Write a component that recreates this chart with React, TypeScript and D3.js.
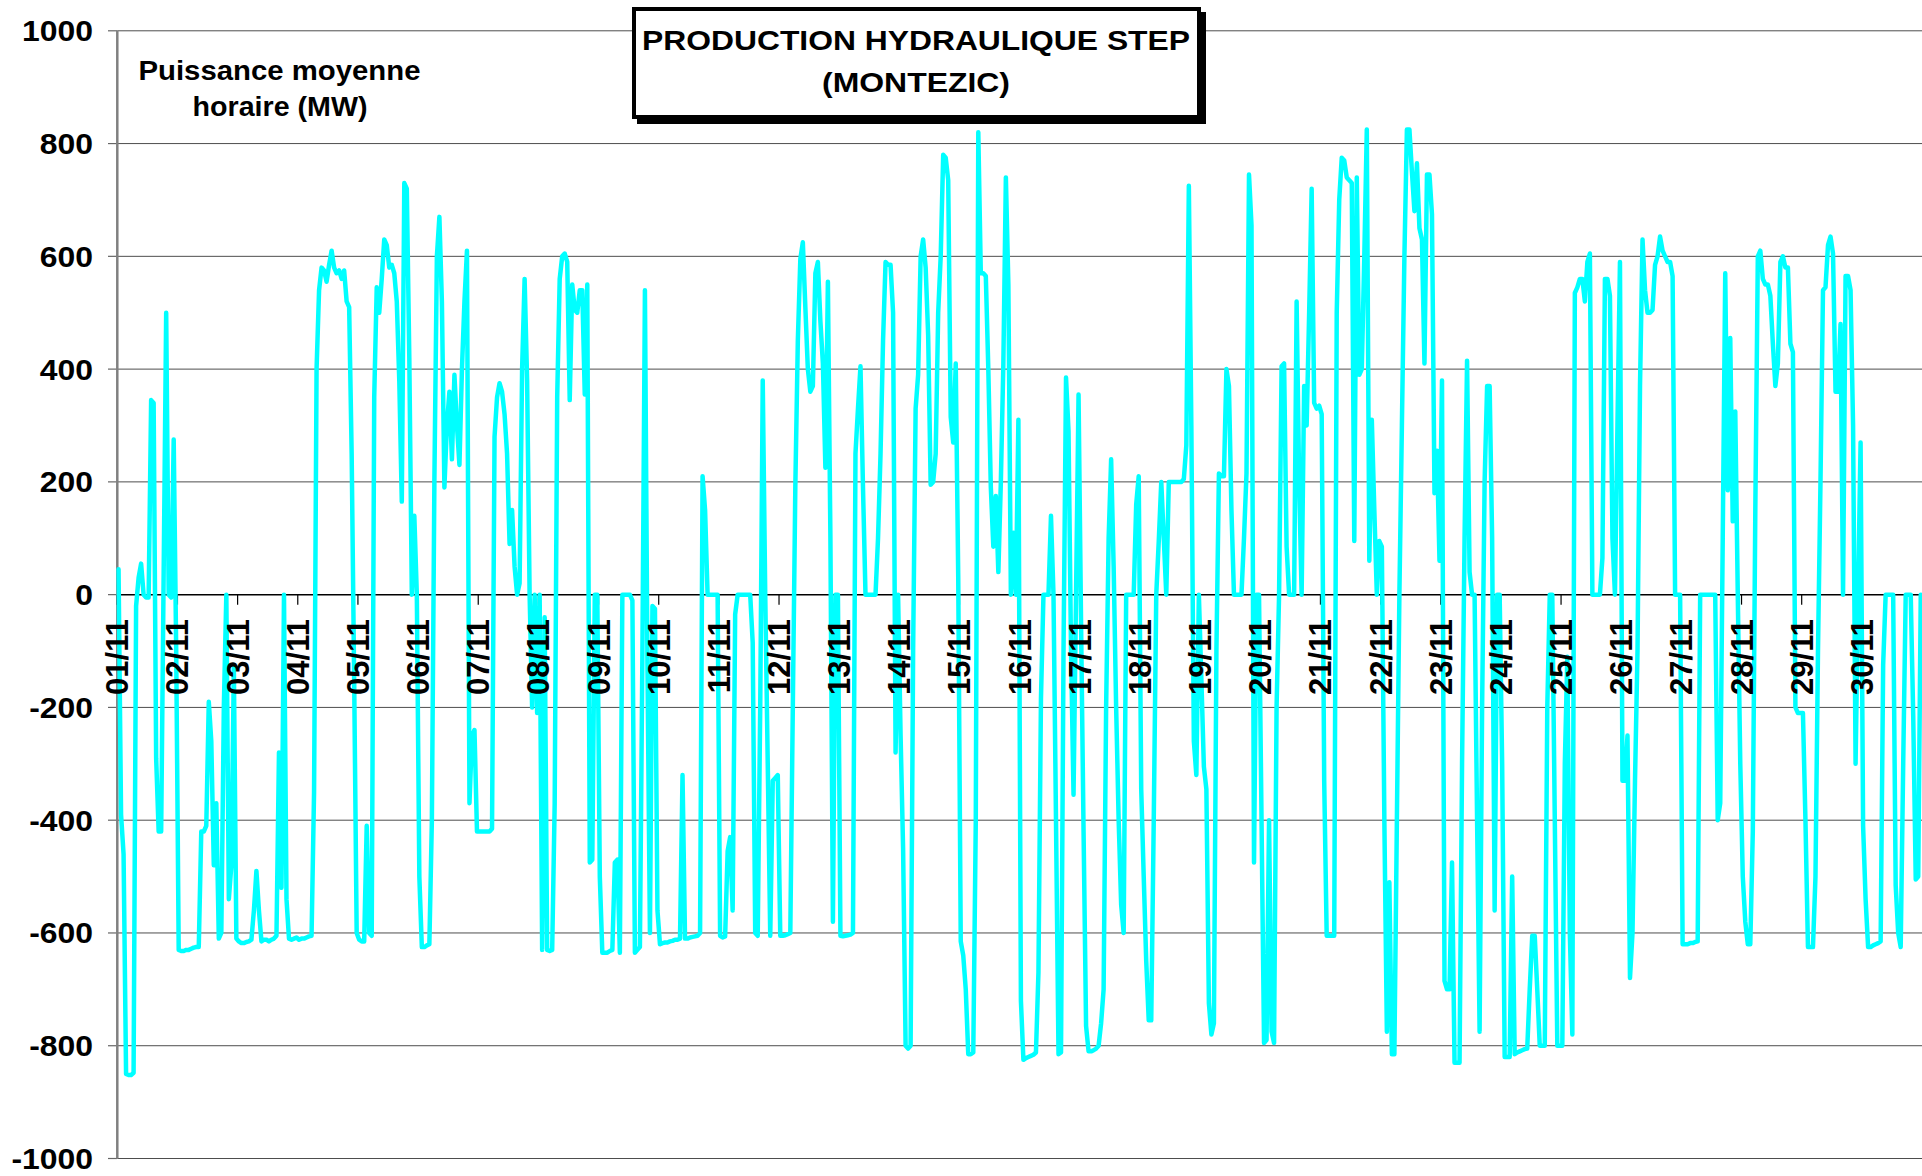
import * as d3 from "d3";

// Hourly mean power (MW), November, one array per day (24 values)
const d01 = [45, -390, -460, -850, -852, -852, -848, -20, 30, 55, 0, -5, -5, 345, 340, -290, -420, -420, 40, 500, 0, -5, 275, -100];
const d02 = [-630, -632, -632, -630, -630, -628, -626, -625, -625, -420, -420, -410, -190, -260, -480, -370, -610, -600, -200, 0, -540, -480, -130, -610];
const d03 = [-615, -618, -618, -616, -615, -612, -560, -490, -560, -615, -612, -612, -615, -612, -610, -605, -280, -520, 0, -540, -610, -612, -610, -608];
const d04 = [-612, -610, -610, -608, -606, -605, -350, 400, 540, 580, 575, 555, 585, 610, 580, 570, 575, 560, 575, 520, 510, 250, -150, -600];
const d05 = [-612, -615, -615, -410, -600, -605, 350, 545, 500, 560, 630, 620, 580, 585, 570, 520, 380, 165, 730, 720, 420, 0, 140, 0];
const d06 = [-500, -625, -625, -622, -620, -400, 200, 600, 670, 520, 190, 300, 360, 240, 390, 300, 230, 400, 520, 610, -370, -250, -240, -420];
const d07 = [-420, -420, -420, -420, -420, -415, 280, 350, 375, 360, 320, 250, 90, 150, 50, 0, 20, 400, 560, 380, 0, -200, 0, -210];
const d08 = [0, -630, -40, -630, -632, -630, -370, 350, 560, 600, 605, 590, 345, 550, 505, 500, 540, 540, 355, 550, -475, -470, 0, 0];
const d09 = [-500, -635, -635, -635, -632, -630, -475, -470, -635, 0, 0, 0, 0, -10, -635, -630, -625, -100, 540, -120, -600, -20, -25, -560];
const d10 = [-620, -618, -617, -617, -615, -614, -612, -612, -610, -320, -610, -610, -608, -607, -606, -605, -600, 210, 150, 0, 0, 0, 0, 0];
const d11 = [-605, -608, -606, -455, -430, -560, -35, 0, 0, 0, 0, 0, 0, -85, -600, -605, -200, 380, 0, -300, -605, -330, -325, -320];
const d12 = [-605, -605, -604, -602, -600, -200, 190, 450, 595, 625, 510, 400, 360, 370, 570, 590, 485, 410, 225, 555, 100, -580, 0, 0];
const d13 = [-605, -606, -605, -604, -603, -600, 250, 330, 405, 190, 0, 0, 0, 0, 0, 100, 250, 450, 590, 585, 585, 500, -280, 0];
const d14 = [-250, -450, -800, -805, -800, -100, 330, 390, 600, 630, 580, 460, 195, 200, 250, 500, 600, 780, 775, 735, 315, 270, 410, 30];
const d15 = [-615, -640, -700, -815, -815, -812, -400, 820, 570, 570, 565, 400, 190, 85, 175, 40, 200, 410, 740, 550, 0, 110, 0, 310];
const d16 = [-720, -825, -822, -820, -818, -816, -812, -670, -185, 0, 0, 0, 140, 0, -400, -815, -812, -100, 385, 290, -100, -355, 0, 355];
const d17 = [-50, -420, -765, -810, -810, -808, -805, -800, -760, -700, -200, 100, 240, 50, -200, -400, -550, -600, 0, 0, 0, 0, 160, 210];
const d18 = [-345, -500, -650, -755, -755, -400, 0, 95, 200, 100, 0, 200, 200, 200, 200, 200, 200, 205, 265, 725, 300, -260, -320, 0];
const d19 = [-150, -305, -345, -725, -780, -760, -100, 215, 210, 210, 400, 370, 150, 0, 0, 0, 0, 100, 215, 745, 655, -475, 0, 0];
const d20 = [-400, -795, -790, -400, -775, -795, -200, 0, 405, 410, 85, 0, 0, 0, 520, 200, 0, 370, 300, 500, 720, 340, 330, 335];
const d21 = [320, -330, -605, -605, -605, -605, 500, 700, 775, 770, 740, 735, 730, 95, 740, 390, 400, 600, 825, 60, 310, 150, 0, 95];
const d22 = [85, -400, -775, -510, -815, -815, -400, 0, 300, 600, 825, 825, 750, 680, 765, 650, 630, 410, 745, 745, 675, 180, 255, 60];
const d23 = [380, -685, -700, -700, -475, -830, -830, -830, -300, 100, 415, 40, 0, 0, -400, -775, -200, 200, 370, 370, 100, -560, 0, 0];
const d24 = [-300, -820, -820, -820, -500, -815, -812, -810, -808, -806, -805, -700, -605, -605, -700, -800, -800, -800, -200, 0, 0, -400, -800, -800];
const d25 = [-800, -300, -110, -600, -780, 535, 545, 560, 560, 520, 590, 605, 0, 0, 0, 0, 65, 560, 560, 530, 100, 0, 300, 590];
const d26 = [-330, -330, -250, -680, -600, -330, -100, 370, 630, 540, 500, 500, 505, 585, 600, 635, 610, 600, 590, 590, 565, 0, 0, 0];
const d27 = [-620, -620, -620, -618, -618, -616, -615, 0, 0, 0, 0, 0, 0, 0, -400, -370, 100, 570, 185, 455, 130, 325, 0, -300];
const d28 = [-500, -580, -620, -620, -420, 150, 600, 610, 560, 550, 550, 530, 445, 370, 410, 590, 600, 580, 580, 445, 430, -200, -210, -210];
const d29 = [-210, -400, -625, -625, -625, -500, -100, 200, 540, 545, 620, 635, 605, 360, 360, 480, 0, 565, 565, 540, 300, -300, 0, 270];
const d30 = [-410, -540, -625, -625, -622, -620, -618, -615, -125, 0, 0, 0, 0, -515, -600, -625, -300, 0, 0, 0, -215, -505, -500, 0];

const days = [d01, d02, d03, d04, d05, d06, d07, d08, d09, d10, d11, d12, d13, d14, d15,
  d16, d17, d18, d19, d20, d21, d22, d23, d24, d25, d26, d27, d28, d29, d30];

const dayLabels = days.map((_, i) => String(i + 1).padStart(2, "0") + "/11");
const yTicks = [1000, 800, 600, 400, 200, 0, -200, -400, -600, -800, -1000];

const W = 1922, H = 1176;
const FONT = "'Liberation Sans', Arial, sans-serif";

export default function App() {
  const values = days.flat();
  const nHours = values.length;

  const x = d3.scaleLinear().domain([0, nHours]).range([117.3, 1922]);
  const y = d3.scaleLinear().domain([-1000, 1000]).range([1158.5, 30.8]);

  const line = d3.line<number>()
    .x((_, i) => x(i + 0.5))
    .y((d) => y(d));

  return (
    <svg width={W} height={H} style={{ position: "absolute", left: 0, top: 0, background: "#fff" }}
      fontFamily={FONT}>
      <rect width={W} height={H} fill="#fff" />

      {/* grid */}
      {yTicks.filter((t) => t !== 0).map((t) => (
        <line key={t} x1={x(0)} x2={W} y1={y(t)} y2={y(t)} stroke="#4d4d4d" strokeWidth={1} />
      ))}

      {/* y ticks and labels */}
      {yTicks.map((t) => (
        <g key={"yt" + t}>
          <line x1={108} x2={x(0)} y1={y(t)} y2={y(t)} stroke="#666" strokeWidth={1.2} />
          <text transform={`translate(93,${y(t)}) scale(1.1,1)`} textAnchor="end" dy="0.36em"
            fontSize={29} fontWeight="bold" fill="#000">{t}</text>
        </g>
      ))}

      {/* y axis */}
      <line x1={x(0)} x2={x(0)} y1={y(1000)} y2={y(-1000)} stroke="#808080" strokeWidth={2.5} />

      {/* zero axis with day ticks */}
      <line x1={x(0)} x2={W} y1={y(0)} y2={y(0)} stroke="#000" strokeWidth={1.5} />
      {days.map((_, i) => (
        <line key={"xt" + i} x1={x(i * 24)} x2={x(i * 24)} y1={y(0)} y2={y(0) + 10}
          stroke="#000" strokeWidth={1.2} />
      ))}

      {/* data */}
      <path d={line(values) ?? ""} fill="none" stroke="#00FFFF" strokeWidth={4.5}
        strokeLinejoin="round" strokeLinecap="round" />

      {/* day labels */}
      {dayLabels.map((lab, i) => (
        <text key={lab} transform={`translate(${x(i * 24) + 11},619) rotate(-90)`} textAnchor="end"
          fontSize={31} fontWeight="bold" fill="#000">{lab}</text>
      ))}

      {/* unit label */}
      <text x={279.5} y={79.5} textAnchor="middle" fontSize={27} fontWeight="bold"
        textLength={282} lengthAdjust="spacingAndGlyphs">Puissance moyenne</text>
      <text x={280} y={115.5} textAnchor="middle" fontSize={27} fontWeight="bold"
        textLength={175} lengthAdjust="spacingAndGlyphs">horaire (MW)</text>

      {/* title box */}
      <rect x={637} y={12} width={569} height={112} fill="#000" />
      <rect x={634} y={9} width={565} height={108} fill="#fff" stroke="#000" strokeWidth={4} />
      <text x={916} y={50} textAnchor="middle" fontSize={28} fontWeight="bold"
        textLength={548} lengthAdjust="spacingAndGlyphs">PRODUCTION HYDRAULIQUE STEP</text>
      <text x={916} y={92} textAnchor="middle" fontSize={28} fontWeight="bold"
        textLength={188} lengthAdjust="spacingAndGlyphs">(MONTEZIC)</text>
    </svg>
  );
}
